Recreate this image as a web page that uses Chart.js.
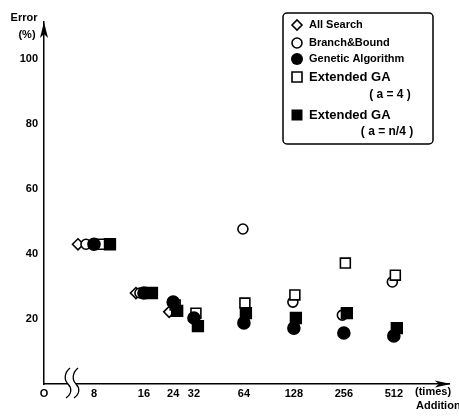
<!DOCTYPE html>
<html><head><meta charset="utf-8">
<script src="https://cdn.jsdelivr.net/npm/chart.js@4/dist/chart.umd.min.js"></script>
<style>html,body{margin:0;padding:0;background:#fff}#wrap{width:459px;height:418px;position:relative}</style>
</head><body><div id="wrap"><canvas id="c" width="459" height="418"></canvas></div>
<script>
// ---- data ----
const categories = [8, 16, 24, 32, 64, 128, 256, 512];           // number of additions (times)
const allSearch        = [43, 28, 22.2, null, null, null, null, null];
const branchBound      = [43, 28, null, null, 47.7, 25.2, 21.2, 31.4];
const geneticAlgorithm = [43, 28, 25.2, 20.3, 18.8, 17.2, 15.7, 14.8];
const extendedGA4      = [43, 28, 24.3, 21.8, 24.9, 27.4, 37.2, 33.5];
const extendedGAn4     = [43, 28, 22.5, 17.8, 21.8, 20.3, 21.8, 17.2];
const yTicks = [20, 40, 60, 80, 100];
const xOriginLabel = 'O';
const xTickLabels = ['8', '16', '24', '32', '64', '128', '256', '512'];

// ---- layout / style ----
const X_MIN = 2, X_MAX = 10.12, Y_MIN = 0, Y_MAX = 111.4;
const PX_PER_UNIT = 50;
const dodgeRank = [-2, -1, 0, 1, 2];                 // per series
const dodgeSpacing = [8, 4, 2, 2, 1, 1, 1.5, 1.5];   // px, per category (coincident points spread)
const FONT = '"Liberation Sans", Arial, Helvetica, sans-serif';

const seriesDefs = [
  {label: 'All Search', data: allSearch, style: 'rectRot', r: 5.5, fill: '#fff', order: 4},
  {label: 'Branch&Bound', data: branchBound, style: 'circle', r: 5, fill: '#fff', order: 3},
  {label: 'Genetic Algorithm', data: geneticAlgorithm, style: 'circle', r: 6, fill: '#000', order: 1},
  {label: 'Extended GA (a = 4)', data: extendedGA4, style: 'rect', r: 7, fill: '#fff', order: 2},
  {label: 'Extended GA (a = n/4)', data: extendedGAn4, style: 'rect', r: 7.6, fill: '#000', order: 0}
];

const datasets = seriesDefs.map((s, si) => ({
  label: s.label,
  data: categories.map((n, ci) => s.data[ci] == null ? null :
    {x: Math.log2(n) + dodgeRank[si] * dodgeSpacing[ci] / PX_PER_UNIT, y: s.data[ci]}).filter(p => p),
  pointStyle: s.style,
  pointRadius: s.r,
  pointHoverRadius: s.r,
  pointBorderWidth: 1.6,
  borderColor: '#000',
  backgroundColor: s.fill,
  pointBackgroundColor: s.fill,
  pointBorderColor: '#000',
  showLine: false,
  order: s.order
}));

const xTickValues = [X_MIN].concat(categories.map(n => Math.log2(n)));
const xLabelsAll = [xOriginLabel].concat(xTickLabels);

function marker(ctx, type, x, y) {
  ctx.save();
  ctx.lineWidth = 1.6;
  ctx.strokeStyle = '#000';
  ctx.beginPath();
  if (type === 'diamond') {
    ctx.moveTo(x - 5, y); ctx.lineTo(x, y - 5); ctx.lineTo(x + 5, y); ctx.lineTo(x, y + 5); ctx.closePath();
    ctx.fillStyle = '#fff'; ctx.fill(); ctx.stroke();
  } else if (type === 'circle') {
    ctx.arc(x, y, 5, 0, Math.PI * 2); ctx.fillStyle = '#fff'; ctx.fill(); ctx.stroke();
  } else if (type === 'fcircle') {
    ctx.arc(x, y, 6, 0, Math.PI * 2); ctx.fillStyle = '#000'; ctx.fill();
  } else if (type === 'square') {
    ctx.rect(x - 5, y - 5, 10, 10); ctx.fillStyle = '#fff'; ctx.fill(); ctx.stroke();
  } else if (type === 'fsquare') {
    ctx.rect(x - 5.5, y - 5.5, 11, 11); ctx.fillStyle = '#000'; ctx.fill();
  }
  ctx.restore();
}

const decor = {
  id: 'decor',
  afterDraw(chart) {
    const ctx = chart.ctx;
    const a = chart.chartArea;
    ctx.save();
    ctx.fillStyle = '#000';
    ctx.strokeStyle = '#000';
    // y arrow
    ctx.beginPath();
    ctx.moveTo(a.left, a.top); ctx.lineTo(a.left + 4, a.top + 16); ctx.lineTo(a.left, a.top + 12); ctx.lineTo(a.left - 4, a.top + 16); ctx.closePath(); ctx.fill();
    // x arrow
    ctx.beginPath();
    ctx.moveTo(a.right + 1, a.bottom); ctx.lineTo(a.right - 15, a.bottom - 3.5); ctx.lineTo(a.right - 11, a.bottom); ctx.lineTo(a.right - 15, a.bottom + 3.5); ctx.closePath(); ctx.fill();
    // axis break
    ctx.fillStyle = '#fff';
    ctx.fillRect(68, a.bottom - 2, 8, 4);
    ctx.lineWidth = 1.3;
    [68, 76].forEach(cx => {
      ctx.beginPath();
      ctx.moveTo(cx + 2, a.bottom - 16);
      ctx.bezierCurveTo(cx - 4, a.bottom - 11, cx - 4, a.bottom - 4, cx, a.bottom);
      ctx.bezierCurveTo(cx + 4, a.bottom + 4, cx + 4, a.bottom + 10, cx - 2, a.bottom + 14);
      ctx.stroke();
    });
    // axis titles
    ctx.fillStyle = '#000';
    ctx.font = 'bold 11px ' + FONT;
    ctx.textBaseline = 'middle';
    ctx.textAlign = 'center';
    ctx.fillText('Error', 24, 18);
    ctx.fillText('(%)', 27, 35);
    ctx.textAlign = 'left';
    ctx.fillText('(times)', 415, 392);
    ctx.fillText('Addition', 416, 406);
    // legend box
    const bx = 283, by = 13, bw = 150, bh = 131, rr = 4;
    ctx.lineWidth = 1.5;
    ctx.beginPath();
    ctx.moveTo(bx + rr, by); ctx.lineTo(bx + bw - rr, by); ctx.arcTo(bx + bw, by, bx + bw, by + rr, rr);
    ctx.lineTo(bx + bw, by + bh - rr); ctx.arcTo(bx + bw, by + bh, bx + bw - rr, by + bh, rr);
    ctx.lineTo(bx + rr, by + bh); ctx.arcTo(bx, by + bh, bx, by + bh - rr, rr);
    ctx.lineTo(bx, by + rr); ctx.arcTo(bx, by, bx + rr, by, rr); ctx.closePath();
    ctx.fillStyle = '#fff'; ctx.fill(); ctx.stroke();
    const mx = 297, tx = 309;
    const rows = [
      ['diamond', seriesDefs[0].label, 25, 11],
      ['circle', seriesDefs[1].label, 43, 11],
      ['fcircle', seriesDefs[2].label, 59, 11],
      ['square', 'Extended GA', 77, 13],
      ['fsquare', 'Extended GA', 115, 13]
    ];
    rows.forEach(([t, txt, y, fs]) => {
      marker(ctx, t, mx, y);
      ctx.fillStyle = '#000';
      ctx.font = 'bold ' + fs + 'px ' + FONT;
      ctx.textAlign = 'left';
      ctx.fillText(txt, tx, y);
    });
    ctx.font = 'bold 12px ' + FONT;
    ctx.textAlign = 'center';
    ctx.fillText('( a = 4 )', 390, 95);
    ctx.fillText('( a = n/4 )', 387, 132);
    ctx.restore();
  }
};

new Chart(document.getElementById('c'), {
  type: 'scatter',
  data: {datasets},
  options: {
    responsive: false,
    animation: false,
    devicePixelRatio: 1,
    layout: {padding: {left: 0, right: 9, top: 22, bottom: 0}},
    plugins: {legend: {display: false}, tooltip: {enabled: false}},
    scales: {
      x: {
        type: 'linear', min: X_MIN, max: X_MAX,
        grid: {display: false, drawTicks: false},
        border: {display: true, color: '#000', width: 1.5},
        afterBuildTicks: s => { s.ticks = xTickValues.map(v => ({value: v})); },
        afterFit: s => { s.height = 34; },
        ticks: {
          autoSkip: false, maxRotation: 0, padding: 3, color: '#000',
          font: {family: FONT, size: 11, weight: 'bold'},
          callback: (v, i) => xLabelsAll[i]
        }
      },
      y: {
        type: 'linear', min: Y_MIN, max: Y_MAX,
        grid: {display: false, drawTicks: false},
        border: {display: true, color: '#000', width: 1.5},
        afterBuildTicks: s => { s.ticks = yTicks.map(v => ({value: v})); },
        afterFit: s => { s.width = 44; },
        ticks: {
          padding: 6, color: '#000',
          font: {family: FONT, size: 11, weight: 'bold'},
          callback: v => String(v)
        }
      }
    }
  },
  plugins: [decor]
});
</script>
</body></html>
